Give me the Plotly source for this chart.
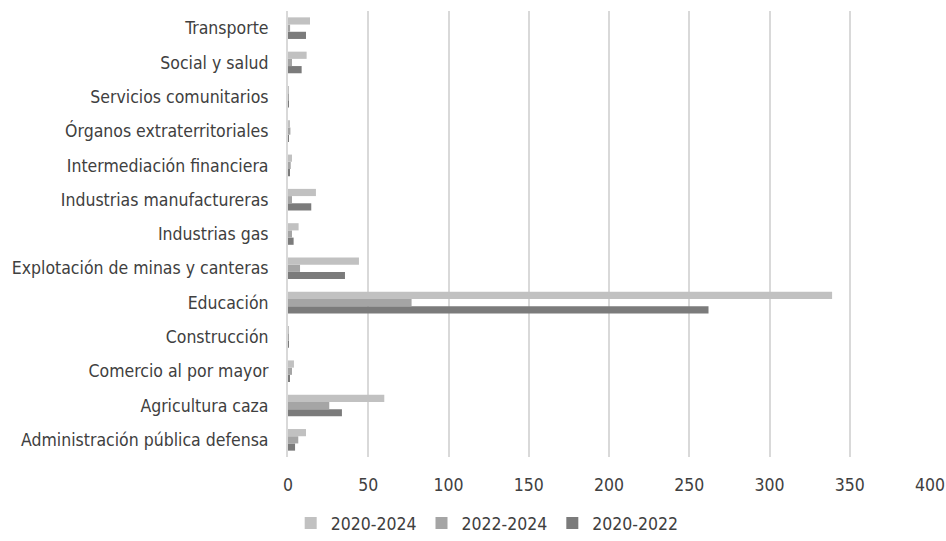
import plotly.graph_objects as go

# Sectors, listed bottom to top as they appear on the category axis
sectores = [
    "Administración pública defensa",
    "Agricultura caza",
    "Comercio al por mayor",
    "Construcción",
    "Educación",
    "Explotación de minas y canteras",
    "Industrias gas",
    "Industrias manufactureras",
    "Intermediación financiera",
    "Órganos extraterritoriales",
    "Servicios comunitarios",
    "Social y salud",
    "Transporte",
]

v_2020_2024 = [11.2, 60, 3.7, 0.5, 339, 44.2, 6.6, 17.4, 2.5, 1.0, 0.6, 11.6, 13.7]
v_2022_2024 = [6.4, 25.7, 2.5, 0.3, 77, 7.5, 2.5, 2.5, 1.7, 1.5, 0.3, 2.5, 1.3]
v_2020_2022 = [4.4, 33.6, 0.8, 0.2, 262, 35.5, 3.5, 14.5, 0.8, 0.5, 0.2, 8.5, 11.2]

x_ticks = [0, 50, 100, 150, 200, 250, 300, 350, 400]

FONT = "DejaVu Sans Condensed, Arial Narrow, sans-serif"
TEXT = "#404040"
SIZE = 17.5

fig = go.Figure()
# Added bottom-up so the first period sits on top of each group
fig.add_trace(go.Bar(y=sectores, x=v_2020_2022, name="2020-2022", orientation="h",
                     marker=dict(color="#7b7b7b", line=dict(width=0))))
fig.add_trace(go.Bar(y=sectores, x=v_2022_2024, name="2022-2024", orientation="h",
                     marker=dict(color="#a5a5a5", line=dict(width=0))))
fig.add_trace(go.Bar(y=sectores, x=v_2020_2024, name="2020-2024", orientation="h",
                     marker=dict(color="#c1c1c1", line=dict(width=0))))

fig.update_layout(
    width=946,
    height=541,
    margin=dict(l=288, r=16, t=11, b=84),
    paper_bgcolor="white",
    plot_bgcolor="white",
    barmode="group",
    bargap=0.37,
    bargroupgap=0,
    font=dict(family=FONT, size=SIZE, color=TEXT),
    xaxis=dict(
        range=[0, 400],
        tickvals=x_ticks,
        showgrid=True,
        gridcolor="#d9d9d9",
        gridwidth=2,
        zeroline=False,
        showline=False,
        ticks="",
        ticklabelstandoff=15,
        automargin=False,
        tickfont=dict(family=FONT, size=SIZE, color=TEXT),
    ),
    yaxis=dict(
        categoryorder="array",
        categoryarray=sectores,
        showgrid=False,
        showline=True,
        linecolor="#d9d9d9",
        linewidth=2,
        ticks="",
        ticklabelstandoff=14,
        automargin=False,
        tickfont=dict(family=FONT, size=SIZE, color=TEXT),
    ),
    legend=dict(
        orientation="h",
        x=0.515,
        xanchor="center",
        xref="container",
        y=0.0,
        yanchor="bottom",
        yref="container",
        traceorder="reversed",
        font=dict(family=FONT, size=SIZE, color=TEXT),
        itemwidth=30,
    ),
    showlegend=True,
)

fig.write_html("out.html")
